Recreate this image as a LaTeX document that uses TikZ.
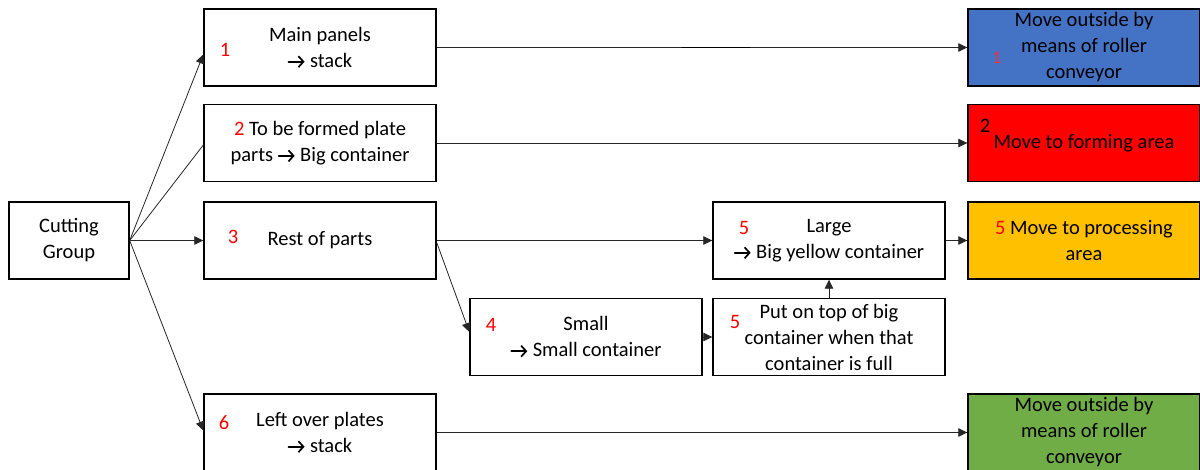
\documentclass[tikz,border=0pt]{standalone}
\usepackage{fontspec}
\setmainfont{Carlito}
\usetikzlibrary{arrows.meta,calc}
\definecolor{fillblue}{HTML}{4472C4}
\definecolor{fillred}{HTML}{FF0000}
\definecolor{fillyellow}{HTML}{FFC000}
\definecolor{fillgreen}{HTML}{70AD47}
\definecolor{numred}{HTML}{FF0000}
\definecolor{palered}{HTML}{E8343A}
% bold arrow used inside the box texts
\newcommand{\toarrow}{\tikz[baseline=0pt,x=1pt,y=1pt]
  \draw[line width=1.7pt, line cap=round, line join=miter,
        -{Straight Barb[length=5pt,width=11pt,line width=1.7pt]}] (0,5.5) -- (16,5.5);}
\begin{document}
\begin{tikzpicture}[x=1pt,y=-1pt,
  box/.style={draw=black, line width=1.4pt, minimum width=232pt, minimum height=77pt,
              align=center, inner sep=0pt, font=\fontsize{20.5}{26}\selectfont},
  num/.style={text=numred, inner sep=0pt, font=\fontsize{20.5}{26}\selectfont},
  link/.style={draw=black!85, line width=0.8pt},
  arrowlink/.style={link, -{Triangle[length=9pt,width=8.5pt]}}]
\useasboundingbox (0,0) rectangle (1200,470);

% source
\node[box, minimum width=120pt] (cut) at (69,240.5) {Cutting\\Group};

% first column
\node[box] (b1) at (320,47.5) {Main panels\\\toarrow{} stack};
\node[box] (b2) at (320,143) {\textcolor{numred}{2} To be formed plate\\parts \toarrow{} Big container};
\node[box] (b3) at (320,240.5) {Rest of parts};
\node[box] (b6) at (320,432.5) {Left over plates\\\toarrow{} stack};

% sorting of the rest of parts
\node[box] (large) at (829,240.5) {Large\\\toarrow{} Big yellow container};
\node[box] (small) at (586,337) {Small\\\toarrow{} Small container};
\node[box] (put) at (829,337) {Put on top of big\\container when that\\container is full};

% destinations
\node[box, fill=fillblue] (r1) at (1084,47.5) {Move outside by\\means of roller\\conveyor};
\node[box, fill=fillred] (r2) at (1084,143) {Move to forming area};
\node[box, fill=fillyellow] (r3) at (1084,240.5) {\textcolor{numred}{5} Move to processing\\area};
\node[box, fill=fillgreen] (r4) at (1084,432.5) {Move outside by\\means of roller\\conveyor};

% step numbers
\node[num] (n1) at (225,50) {1};
\node[num] (n3) at (233,237) {3};
\node[num] (n6) at (224,423) {6};
\node[num] (n5a) at (744,228) {5};
\node[num] (n4) at (491,325) {4};
\node[num] (n5b) at (735,322) {5};
\node[num, text=palered, font=\fontsize{18}{20}\selectfont] (n1r) at (997,58) {1};
\node[num, text=black] (n2r) at (985,126) {2};

% connectors from the cutting group
\draw[arrowlink] (cut.east) -- ($(b1.west)+(0,7)$);
\draw[link] (cut.east) -- ($(b2.west)+(0,2)$);
\draw[arrowlink] (cut.east) -- (b3.west);
\draw[arrowlink] (cut.east) -- ($(b6.west)+(0,-2)$);

% connectors to the destinations
\draw[arrowlink] (b1.east) -- (r1.west);
\draw[line width=1.4pt] (682,47.5) -- (750,47.5);
\draw[arrowlink] (b2.east) -- (r2.west);
\draw[arrowlink] (b3.east) -- (large.west);
\draw[arrowlink] ($(b3.east)+(0,2)$) -- ($(small.west)+(0,-5)$);
\draw[arrowlink] (small.east) -- (put.west);
\draw[arrowlink] (put.north) -- (large.south);
\draw[arrowlink] (large.east) -- (r3.west);
\draw[arrowlink] (b6.east) -- (r4.west);
\end{tikzpicture}
\end{document}
